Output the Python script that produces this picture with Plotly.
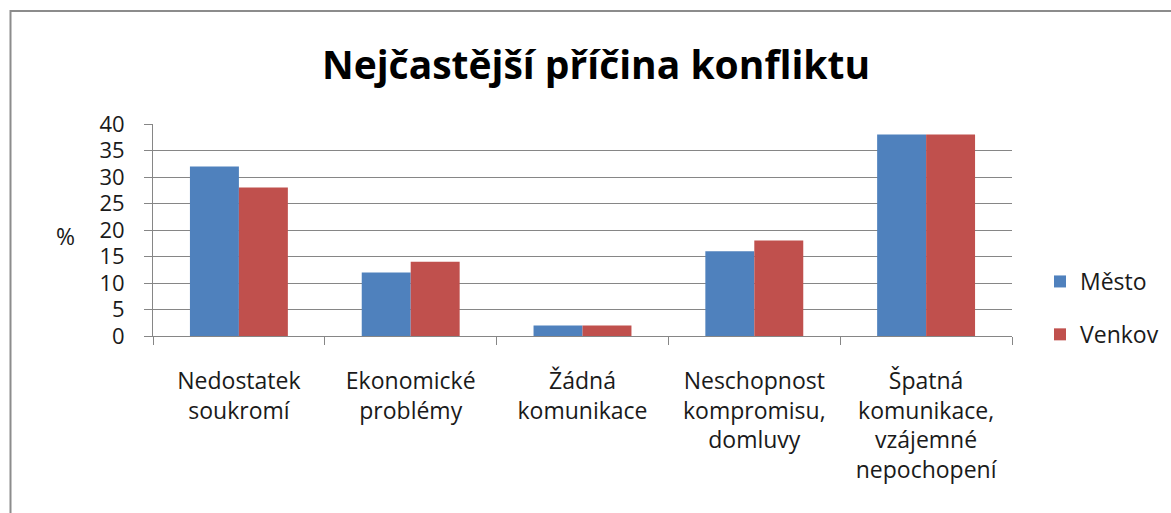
import plotly.graph_objects as go

categories = ["Nedostatek<br>soukromí", "Ekonomické<br>problémy", "Žádná<br>komunikace",
              "Neschopnost<br>kompromisu,<br>domluvy", "Špatná<br>komunikace,<br>vzájemné<br>nepochopení"]
mesto = [32, 12, 2, 16, 38]
venkov = [28, 14, 2, 18, 38]
series_names = ["Město", "Venkov"]
title_text = "Nejčastější příčina konfliktu"
y_ticks = [0, 5, 10, 15, 20, 25, 30, 35, 40]

W, H = 1171, 513
L, R, T, B = 153, 159, 124, 177
pw, ph = W - L - R, H - T - B

FONT = "Open Sans"
grid = "#868686"

fig = go.Figure()
fig.add_trace(go.Bar(x=categories, y=mesto, name=series_names[0], marker=dict(color="#4F81BD", line_width=0), legendgroup="a"))
fig.add_trace(go.Bar(x=categories, y=venkov, name=series_names[1], marker=dict(color="#C0504D", line_width=0), legendgroup="b"))

fig.update_layout(
    width=W, height=H,
    margin=dict(l=L, r=R, t=T, b=B, autoexpand=False),
    paper_bgcolor="white", plot_bgcolor="white",
    barmode="group", bargap=0.43, bargroupgap=0,
    font=dict(family=FONT, size=23, color="#1a1a1a"),
    title=dict(text=title_text, x=596 / W, xanchor="center", y=1 - 65 / H, yanchor="middle",
               yref="container", font=dict(family=FONT, size=39, color="black", weight="bold")),
    showlegend=True,
    legend=dict(x=(1040 - L) / pw, xanchor="left", y=(336 - 308) / ph, yanchor="middle",
                tracegroupgap=20, font=dict(size=23), bgcolor="rgba(0,0,0,0)"),
    xaxis=dict(showline=True, linecolor=grid, linewidth=1, ticks="outside", tickson="boundaries",
               ticklen=8, tickcolor=grid, showgrid=False, tickfont=dict(size=23), ticklabelstandoff=24),
    yaxis=dict(range=[0, 40], tickvals=y_ticks, showline=True, linecolor=grid, linewidth=1,
               ticks="outside", ticklen=8, tickcolor=grid, showgrid=True, gridcolor=grid, gridwidth=1,
               zeroline=False, tickfont=dict(size=22), ticklabelstandoff=15),
    annotations=[dict(text="%", xref="paper", yref="paper", x=(65 - L) / pw, y=(336 - 236) / ph,
                      xanchor="center", yanchor="middle", showarrow=False, font=dict(size=23))],
    shapes=[dict(type="rect", xref="paper", yref="paper",
                 x0=(10.5 - L) / pw, x1=(W + 20 - L) / pw, y0=(336 - H - 20) / ph, y1=(336 - 11) / ph,
                 line=dict(color="#8c8c8c", width=2), fillcolor="rgba(0,0,0,0)", layer="below")],
)

fig.write_html("out.html", config={"displayModeBar": False},
               post_script="document.body.style.margin='0';document.body.style.overflow='hidden';")
